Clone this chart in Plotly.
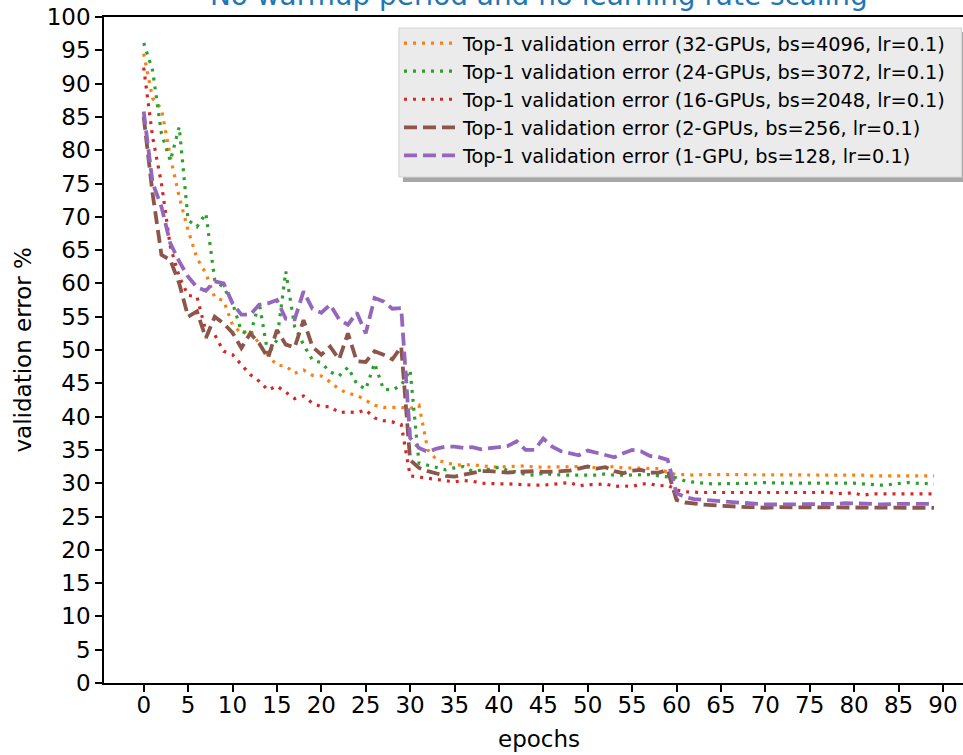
import plotly.graph_objects as go

epochs = list(range(90))

names = [
    "Top-1 validation error (32-GPUs, bs=4096, lr=0.1)",
    "Top-1 validation error (24-GPUs, bs=3072, lr=0.1)",
    "Top-1 validation error (16-GPUs, bs=2048, lr=0.1)",
    "Top-1 validation error (2-GPUs, bs=256, lr=0.1)",
    "Top-1 validation error (1-GPU, bs=128, lr=0.1)",
]

err_32gpu = [
    94.5, 87.8, 86.2, 79.0, 73.0, 68.0, 63.8, 61.5, 57.9, 57.4,
    53.8, 52.5, 53.0, 50.9, 49.2, 47.7, 47.6, 46.5, 47.0, 46.2,
    46.1, 45.2, 44.1, 43.5, 43.2, 42.5, 41.7, 41.4, 41.4, 41.4,
    41.2, 41.7, 35.0, 33.5, 33.1, 32.8, 32.7, 32.8, 32.6, 32.5,
    32.4, 32.5, 32.6, 32.6, 32.4, 32.4, 32.5, 32.5, 32.4, 32.4,
    32.5, 32.3, 32.4, 32.5, 32.3, 32.3, 32.3, 32.3, 32.2, 31.6,
    31.3, 31.3, 31.2, 31.3, 31.3, 31.3, 31.2, 31.2, 31.2, 31.3,
    31.3, 31.2, 31.3, 31.3, 31.2, 31.2, 31.2, 31.2, 31.3, 31.3,
    31.3, 31.2, 31.1, 31.1, 31.2, 31.1, 31.2, 31.2, 31.1, 31.1,
]
err_24gpu = [
    96.1, 92.0, 82.5, 78.4, 83.5, 69.5, 68.5, 70.5, 60.5, 59.4,
    57.1, 52.8, 52.3, 57.1, 49.3, 51.5, 61.8, 53.5, 50.8, 48.5,
    48.1, 46.7, 46.1, 47.4, 44.9, 44.1, 48.0, 44.1, 44.0, 44.7,
    47.0, 33.0, 32.7, 32.3, 32.0, 32.3, 32.5, 31.8, 31.9, 32.1,
    32.4, 31.9, 31.7, 31.3, 31.2, 31.5, 31.3, 31.2, 31.2, 31.2,
    31.2, 31.2, 31.4, 31.2, 31.2, 31.2, 31.2, 31.3, 31.1, 30.9,
    30.8, 30.3, 30.1, 30.0, 29.9, 29.9, 29.9, 29.9, 29.9, 30.0,
    30.1, 30.0, 30.0, 30.0, 30.0, 30.1, 30.0, 30.1, 30.0, 30.1,
    30.0, 29.9, 29.8, 29.7, 29.8, 30.0, 30.1, 30.0, 29.9, 29.9,
]
err_16gpu = [
    92.4, 82.0, 75.0, 65.5, 61.0, 58.2, 58.0, 52.8, 52.3, 49.8,
    49.3, 47.8, 46.3, 45.3, 44.0, 44.6, 43.6, 42.7, 43.1, 42.0,
    41.5, 41.5, 40.6, 40.7, 40.6, 41.0, 39.8, 39.4, 39.2, 38.8,
    31.1, 30.9, 30.8, 30.6, 30.3, 30.2, 30.4, 30.3, 30.0, 29.9,
    29.9, 29.9, 29.8, 29.8, 29.7, 29.7, 29.8, 29.9, 30.1, 29.6,
    29.8, 29.8, 29.9, 29.5, 29.6, 29.5, 29.9, 29.9, 29.6, 29.7,
    29.0, 28.7, 28.6, 28.6, 28.6, 28.6, 28.6, 28.6, 28.5, 28.5,
    28.6, 28.6, 28.6, 28.6, 28.6, 28.5, 28.6, 28.7, 28.4, 28.5,
    28.5, 28.2, 28.4, 28.4, 28.4, 28.5, 28.4, 28.4, 28.5, 28.4,
]
err_2gpu = [
    85.0, 73.5, 64.3, 63.5, 60.0, 55.0, 55.8, 51.8, 55.0, 54.0,
    52.6, 50.3, 52.5, 51.0, 48.8, 53.0, 50.8, 50.4, 54.5, 50.5,
    49.3, 50.5, 48.6, 52.5, 48.3, 48.2, 49.8, 49.3, 48.6, 50.5,
    33.5, 32.3, 31.8, 31.4, 31.1, 31.0, 31.3, 31.6, 31.8, 31.8,
    31.7, 31.6, 31.7, 31.8, 31.8, 31.7, 31.7, 31.8, 31.9, 32.2,
    32.5, 32.2, 32.4, 31.8, 31.5, 31.9, 32.0, 31.6, 31.6, 32.0,
    27.5, 27.1, 26.9, 26.8, 26.7, 26.6, 26.5, 26.4, 26.4, 26.4,
    26.3, 26.4, 26.4, 26.3, 26.3, 26.3, 26.4, 26.3, 26.3, 26.3,
    26.3, 26.3, 26.4, 26.3, 26.3, 26.3, 26.3, 26.4, 26.3, 26.3,
]
err_1gpu = [
    85.8, 75.1, 71.5, 66.0, 63.3, 61.0, 59.4, 58.9, 60.3, 60.0,
    57.0, 55.3, 55.3, 56.8, 57.0, 57.5, 54.7, 54.6, 58.8, 56.2,
    55.6, 56.8, 54.6, 53.8, 55.6, 52.5, 57.8, 57.3, 56.2, 56.3,
    36.8, 35.3, 34.7, 35.2, 35.5, 35.5, 35.3, 35.4, 35.1, 35.2,
    35.4, 35.6, 36.3, 35.0, 35.0, 36.7, 35.5, 34.8, 34.5, 34.2,
    34.9, 34.6, 34.3, 33.9, 34.5, 35.0, 34.8, 34.1, 33.9, 33.5,
    28.5, 27.9, 27.6, 27.5, 27.4, 27.3, 27.1, 27.0, 26.9, 26.9,
    26.8, 26.8, 26.8, 26.8, 26.8, 26.8, 26.8, 26.8, 26.9, 27.0,
    27.0, 27.0, 26.9, 26.8, 26.9, 26.9, 26.9, 26.9, 26.9, 26.9,
]

series = [err_32gpu, err_24gpu, err_16gpu, err_2gpu, err_1gpu]
colors = ["#ff7f0e", "#2ca02c", "#d62728", "#8c564b", "#9467bd"]
dashes = ["3px,6px", "3px,6px", "3px,6px", "13px,6px", "13px,6px"]
widths = [3.2, 3.2, 3.2, 3.8, 3.8]

x_ticks = list(range(0, 91, 5))
y_ticks = list(range(0, 101, 5))

FONT = "DejaVu Sans"
W, H = 963, 755
L, R, T, B = 104, 0, 17, 72
PW, PH = W - L - R, H - T - B


def px_x(p):
    return (p - L) / PW


def px_y(p):
    return (H - B - p) / PH


fig = go.Figure()
for vals, name, col, dsh, lw in zip(series, names, colors, dashes, widths):
    fig.add_trace(go.Scatter(
        x=epochs, y=vals, mode="lines", name=name,
        line=dict(color=col, width=lw, dash=dsh),
    ))

axis_common = dict(
    showgrid=False, zeroline=False, showline=True, linecolor="black",
    linewidth=1.6, ticks="outside", ticklen=7, tickwidth=1.6,
    tickcolor="black", tickfont=dict(family=FONT, size=23, color="black"),
    automargin=False,
)
fig.update_xaxes(range=[-4.47, 92.26], tickmode="array", tickvals=x_ticks,
                 mirror=True, ticklabelstandoff=-6, **axis_common)
fig.update_yaxes(range=[0, 100], tickmode="array", tickvals=y_ticks,
                 **axis_common)

fig.update_layout(
    width=W, height=H,
    margin=dict(l=L, r=R, t=T, b=B, autoexpand=False),
    plot_bgcolor="white", paper_bgcolor="white",
    font=dict(family=FONT, color="black"),
    showlegend=True,
    legend=dict(
        x=px_x(399), y=px_y(24), xanchor="left", yanchor="top",
        bgcolor="rgba(0,0,0,0)", borderwidth=0,
        font=dict(family=FONT, size=19.3, color="black"),
        itemwidth=54,
    ),
    shapes=[
        dict(type="rect", xref="paper", yref="paper",
             x0=px_x(403), x1=px_x(980), y0=px_y(32), y1=px_y(182),
             fillcolor="#a6a6a6", line=dict(width=0), layer="above"),
        dict(type="rect", xref="paper", yref="paper",
             x0=px_x(399), x1=px_x(961.5), y0=px_y(28), y1=px_y(177),
             fillcolor="#ebebeb", line=dict(width=1.2, color="#d6d6d6"),
             layer="above"),
    ],
    annotations=[
        dict(text="No warmup period and no learning rate scaling",
             xref="paper", yref="paper", x=px_x(538.5), y=px_y(-4.6),
             xanchor="center", yanchor="middle", showarrow=False,
             font=dict(family=FONT, size=27.9, color="#1f77b4")),
        dict(text="epochs", xref="paper", yref="paper",
             x=px_x(538.5), y=px_y(739), xanchor="center", yanchor="middle",
             showarrow=False, font=dict(family=FONT, size=23, color="black")),
        dict(text="validation error %", xref="paper", yref="paper",
             x=px_x(22.5), y=0.5, xanchor="center", yanchor="middle",
             textangle=-90, showarrow=False,
             font=dict(family=FONT, size=23, color="black")),
    ],
)

fig.write_html("out.html")
